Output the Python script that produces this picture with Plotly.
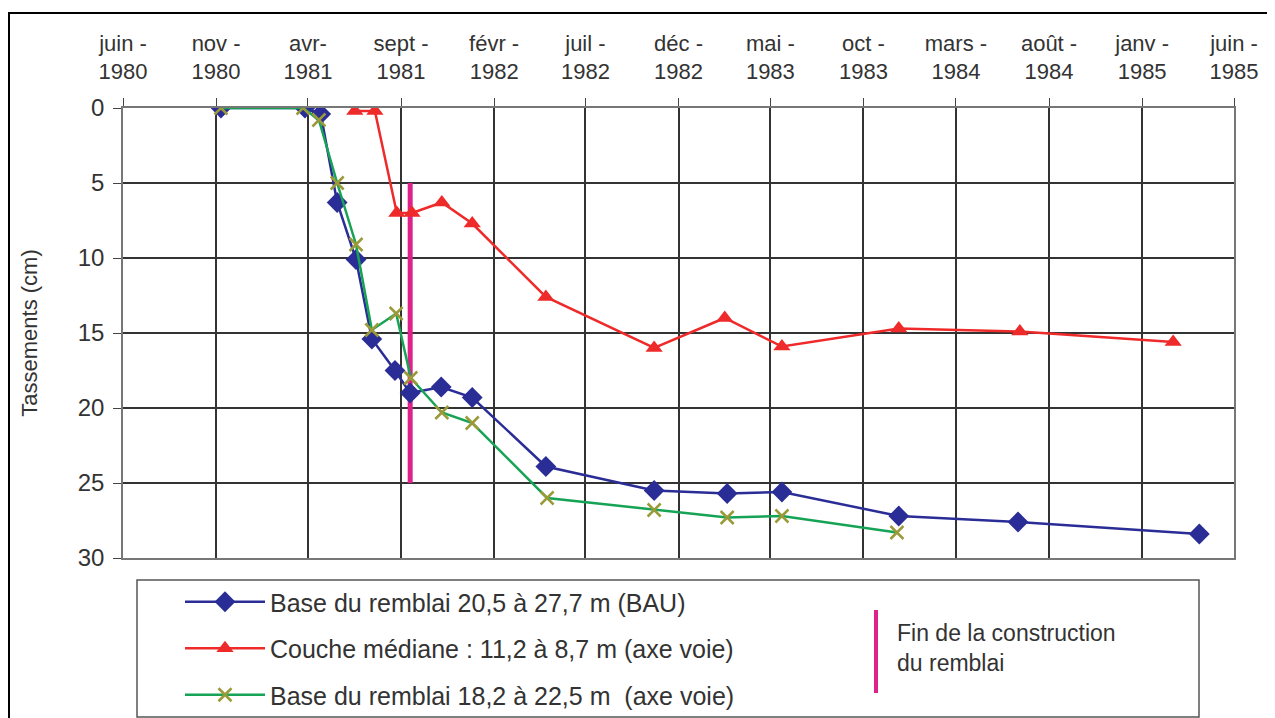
import plotly.graph_objects as go

# ---- data ----
tick_dates = ["1980-06-01", "1980-11-01", "1981-04-01", "1981-09-01", "1982-02-01",
              "1982-07-01", "1982-12-01", "1983-05-01", "1983-10-01", "1984-03-01",
              "1984-08-01", "1985-01-01", "1985-06-01"]
tick_labels = ["juin -<br>1980", "nov -<br>1980", "avr-<br>1981", "sept -<br>1981",
               "févr -<br>1982", "juil -<br>1982", "déc -<br>1982", "mai -<br>1983",
               "oct -<br>1983", "mars -<br>1984", "août -<br>1984", "janv -<br>1985",
               "juin -<br>1985"]
y_ticks = [0, 5, 10, 15, 20, 25, 30]

bau_dates = ["1980-11-09", "1981-03-27", "1981-04-22", "1981-05-19", "1981-06-19",
             "1981-07-15", "1981-08-22", "1981-09-16", "1981-11-06", "1981-12-27",
             "1982-04-27", "1982-10-22", "1983-02-19", "1983-05-20", "1983-11-28",
             "1984-06-11", "1985-04-05"]
bau_values = [0, 0, 0.4, 6.3, 10.1, 15.4, 17.5, 19.0, 18.6, 19.3, 23.9, 25.5, 25.7,
              25.6, 27.2, 27.6, 28.4]

med_dates = ["1981-06-17", "1981-07-20", "1981-08-25", "1981-09-19", "1981-11-07",
             "1981-12-27", "1982-04-27", "1982-10-22", "1983-02-15", "1983-05-20",
             "1983-11-28", "1984-06-14", "1985-02-21"]
med_values = [0.2, 0.2, 7.0, 7.0, 6.3, 7.7, 12.6, 16.0, 14.0, 15.9, 14.7, 14.9, 15.6]

axe_dates = ["1980-11-09", "1981-03-24", "1981-04-19", "1981-05-19", "1981-06-19",
             "1981-07-15", "1981-08-24", "1981-09-17", "1981-11-07", "1981-12-27",
             "1982-04-29", "1982-10-22", "1983-02-19", "1983-05-20", "1983-11-25"]
axe_values = [0, 0, 0.8, 5.0, 9.1, 14.8, 13.7, 18.0, 20.3, 21.0, 26.0, 26.8, 27.3,
              27.2, 28.3]

fin_dates = ["1981-09-16", "1981-09-16"]
fin_values = [5, 25]

names = ["Base du remblai 20,5 à 27,7 m (BAU)",
         "Couche médiane : 11,2 à 8,7 m (axe voie)",
         "Base du remblai 18,2 à 22,5 m  (axe voie)"]
fin_label = "Fin de la construction<br>du remblai"

BLUE = "#2b2d96"
RED = "#ee2a2a"
GREEN = "#16a356"
OLIVE = "#9a9a38"
MAGENTA = "#e0218a"
TEXT = "#333333"
FONT = "Liberation Sans, Arial, sans-serif"

fig = go.Figure()

fig.add_trace(go.Scatter(x=fin_dates, y=fin_values, mode="lines",
                         line=dict(color=MAGENTA, width=5), showlegend=False,
                         hoverinfo="skip"))
fig.add_trace(go.Scatter(x=bau_dates, y=bau_values, mode="lines+markers", name=names[0],
                         legendgroup="a",
                         line=dict(color=BLUE, width=2.5),
                         marker=dict(symbol="diamond", size=16, color=BLUE)))
fig.add_trace(go.Scatter(x=med_dates, y=med_values, mode="lines+markers", name=names[1],
                         legendgroup="b",
                         line=dict(color=RED, width=2.5),
                         marker=dict(symbol="triangle-up", size=15, color=RED)))
fig.add_trace(go.Scatter(x=axe_dates, y=axe_values, mode="lines+markers", name=names[2],
                         legendgroup="c",
                         line=dict(color=GREEN, width=2.5),
                         marker=dict(symbol="x-thin", size=13, color=OLIVE,
                                     line=dict(color=OLIVE, width=2.5))))

# page has an 8px body margin: figure coords = page coords - 8
OFF = 8
W, H = 1275 - OFF, 718 - OFF
PL, PR, PT, PB = 123, 1234, 108, 558  # plot area in page pixels
L, R, T, B = PL - OFF, W - (PR - OFF), PT - OFF, H - (PB - OFF)
pw, ph = PR - PL, PB - PT


def px(x):
    return (x - PL) / pw


def py(y):
    return (PB - y) / ph


shapes = [
    # outer frame
    dict(type="rect", xref="paper", yref="paper", x0=px(9), x1=px(1272), y0=py(740),
         y1=py(13), line=dict(color="black", width=2)),
    # legend box
    dict(type="rect", xref="paper", yref="paper", x0=px(137), x1=px(1199), y0=py(717),
         y1=py(580), line=dict(color="#555555", width=1.5), fillcolor="white"),
    # magenta legend bar
    dict(type="line", xref="paper", yref="paper", x0=px(876), x1=px(876), y0=py(610),
         y1=py(693), line=dict(color=MAGENTA, width=4)),
]

annotations = [
    dict(xref="paper", yref="paper", x=px(895), y=py(648), text=fin_label,
         showarrow=False, xanchor="left", yanchor="middle", align="left",
         font=dict(size=23, color=TEXT))
]

fig.update_layout(
    width=W, height=H,
    margin=dict(l=L, r=R, t=T, b=B, pad=0, autoexpand=False),
    paper_bgcolor="white", plot_bgcolor="white",
    font=dict(family=FONT, size=22, color=TEXT),
    shapes=shapes,
    annotations=annotations,
    showlegend=True,
    legend=dict(x=px(180), y=py(579), xanchor="left", yanchor="top",
                bgcolor="rgba(0,0,0,0)", borderwidth=0, tracegroupgap=11,
                itemwidth=80, font=dict(size=25, color=TEXT)),
    xaxis=dict(type="date", side="top", range=["1980-06-01", "1985-06-01"],
               tickvals=tick_dates, ticktext=tick_labels, ticks="outside", ticklen=8,
               tickcolor="#444444", showgrid=True, gridcolor="#333333", gridwidth=1.5,
               showline=True, mirror=True, linecolor="#777777", linewidth=1.5,
               zeroline=False, ticklabelstandoff=10,
               tickfont=dict(size=22, color=TEXT)),
    yaxis=dict(range=[30, 0], tickvals=y_ticks, ticks="outside",
               ticklen=8, tickcolor="#444444", showgrid=True, gridcolor="#333333",
               gridwidth=1.5, showline=True, mirror=True, linecolor="#777777",
               linewidth=1.5, zeroline=False, ticklabelstandoff=4,
               tickfont=dict(size=24, color=TEXT),
               title=dict(text="Tassements (cm)", standoff=34,
                          font=dict(size=22, color=TEXT))),
)

fig.write_html("out.html")
